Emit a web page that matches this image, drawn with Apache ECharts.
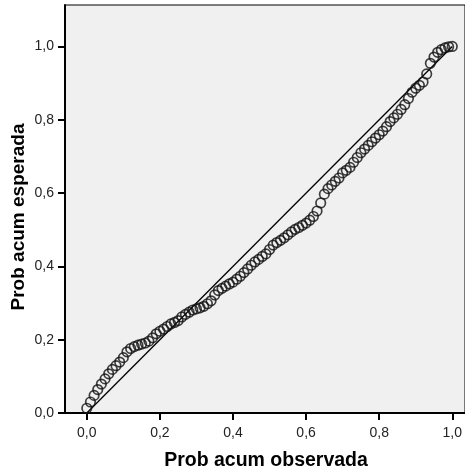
<!DOCTYPE html>
<html>
<head>
<meta charset="utf-8">
<script src="https://cdn.jsdelivr.net/npm/echarts@6/dist/echarts.min.js"></script>
<style>
html,body{margin:0;padding:0;background:#fff;}
#c{width:465px;height:473px;}
</style>
</head>
<body>
<div id="c"></div>
<script>
const obsProb = [0.00,0.01,0.02,0.03,0.04,0.05,0.06,0.07,0.08,0.09,
  0.10,0.11,0.12,0.13,0.14,0.15,0.16,0.17,0.18,0.19,
  0.20,0.21,0.22,0.23,0.24,0.25,0.26,0.27,0.28,0.29,
  0.30,0.31,0.32,0.33,0.34,0.35,0.36,0.37,0.38,0.39,
  0.40,0.41,0.42,0.43,0.44,0.45,0.46,0.47,0.48,0.49,
  0.50,0.51,0.52,0.53,0.54,0.55,0.56,0.57,0.58,0.59,
  0.60,0.61,0.62,0.63,0.64,0.65,0.66,0.67,0.68,0.69,
  0.70,0.71,0.72,0.73,0.74,0.75,0.76,0.77,0.78,0.79,
  0.80,0.81,0.82,0.83,0.84,0.85,0.86,0.87,0.88,0.89,
  0.90,0.91,0.92,0.93,0.94,0.95,0.96,0.97,0.98,0.99,1.00];
const expProb = [0.013,0.030,0.048,0.064,0.079,0.093,0.107,0.119,0.129,0.139,
  0.151,0.167,0.176,0.181,0.185,0.188,0.191,0.196,0.205,0.216,
  0.223,0.229,0.236,0.243,0.247,0.252,0.262,0.269,0.275,0.281,
  0.284,0.287,0.291,0.298,0.306,0.322,0.334,0.340,0.346,0.352,
  0.357,0.365,0.373,0.383,0.393,0.403,0.412,0.419,0.427,0.434,
  0.446,0.458,0.465,0.471,0.478,0.486,0.494,0.501,0.506,0.512,
  0.518,0.526,0.536,0.551,0.573,0.597,0.612,0.622,0.632,0.641,
  0.655,0.662,0.670,0.684,0.697,0.710,0.720,0.730,0.740,0.750,
  0.759,0.769,0.781,0.795,0.805,0.815,0.828,0.841,0.858,0.875,
  0.886,0.894,0.903,0.925,0.954,0.971,0.984,0.991,0.996,0.999,1.000];
const refLine = [[0,0],[1,1]];
const tickValues = [0,0.2,0.4,0.6,0.8,1.0];
const xTitle = 'Prob acum observada';
const yTitle = 'Prob acum esperada';

const points = obsProb.map((x,i)=>[x, expProb[i]]);
const fmt = v => Number(v).toFixed(1).replace('.', ',');
const font = '"Liberation Sans", Arial, sans-serif';

const chart = echarts.init(document.getElementById('c'), null, {renderer:'canvas'});
chart.setOption({
  animation:false,
  backgroundColor:'#ffffff',
  grid:{left:65,top:5,right:0,bottom:60,outerBoundsMode:'none',containLabel:false,
        show:true,backgroundColor:'#f0f0f0',borderColor:'#000',borderWidth:1},
  xAxis:{
    type:'value', min:-0.0596, max:1.0348,
    name:xTitle, nameLocation:'middle', nameGap:38, nameMoveOverlap:false,
    nameTextStyle:{fontFamily:font,fontSize:19.5,fontWeight:'bold',color:'#000',padding:[0,0,0,2]},
    axisLine:{show:true,onZero:false,lineStyle:{color:'#000',width:2}},
    axisTick:{show:true,customValues:tickValues,length:7,lineStyle:{color:'#000',width:2}},
    axisLabel:{customValues:tickValues,formatter:fmt,margin:13,fontFamily:font,fontSize:14,color:'#222'},
    splitLine:{show:false}
  },
  yAxis:{
    type:'value', min:0, max:1.113,
    name:yTitle, nameLocation:'middle', nameGap:37, nameMoveOverlap:false,
    nameTextStyle:{fontFamily:font,fontSize:19,fontWeight:'bold',color:'#000',padding:[0,16,0,0]},
    axisLine:{show:true,onZero:false,lineStyle:{color:'#000',width:2}},
    axisTick:{show:true,customValues:tickValues,length:7,lineStyle:{color:'#000',width:2}},
    axisLabel:{customValues:tickValues,formatter:fmt,margin:11,fontFamily:font,fontSize:14,color:'#222'},
    splitLine:{show:false}
  },
  series:[
    {type:'line',data:refLine,symbol:'none',lineStyle:{color:'#000',width:1.3},z:3},
    {type:'scatter',data:points,symbol:'circle',symbolSize:9.5,
     itemStyle:{color:'rgba(0,0,0,0)',borderColor:'#111',borderWidth:1.7},z:4}
  ]
});
</script>
</body>
</html>
